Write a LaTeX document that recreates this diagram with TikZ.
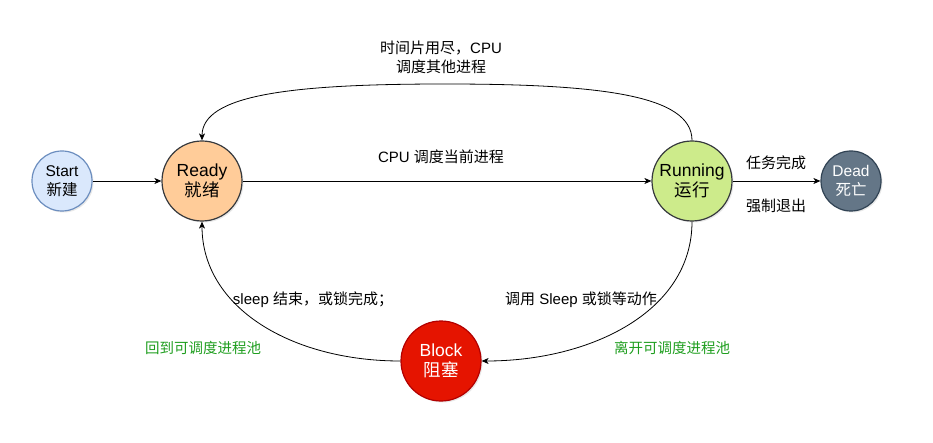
\documentclass[tikz,border=0pt]{standalone}
\usepackage{fontspec}
\setmainfont{Liberation Sans}
\newfontfamily\cjk{Noto Sans CJK SC}
\usetikzlibrary{arrows.meta,shadows}

\definecolor{startfill}{HTML}{DAE8FC}
\definecolor{startdraw}{HTML}{6C8EBF}
\definecolor{readyfill}{HTML}{FFCC99}
\definecolor{runfill}{HTML}{CDEB8B}
\definecolor{darkdraw}{HTML}{36393D}
\definecolor{deadfill}{HTML}{647687}
\definecolor{deaddraw}{HTML}{314354}
\definecolor{blockfill}{HTML}{E51400}
\definecolor{blockdraw}{HTML}{B20000}
\definecolor{greentext}{HTML}{1F9E1F}

\begin{document}
\begin{tikzpicture}[x=1pt,y=-1pt,
  state/.style={circle, draw, line width=1.2pt, align=center, inner sep=0pt,
    drop shadow={shadow xshift=1.5pt, shadow yshift=-1.5pt, opacity=0.18}},
  bigstate/.style={state, minimum size=80pt, font=\fontsize{17.5}{20}\selectfont},
  smallstate/.style={state, minimum size=60pt, font=\fontsize{15.5}{19}\selectfont},
  edge/.style={draw=black, line width=0.8pt, -{Stealth[length=7pt,width=6pt,inset=2pt]}},
  lbl/.style={align=center, inner sep=0pt, font=\fontsize{15}{19}\selectfont},
  glbl/.style={lbl, text=greentext, font=\fontsize{14.5}{18}\selectfont}
]
\useasboundingbox (0,0) rectangle (933,443);

\node[smallstate, fill=startfill, draw=startdraw] (start) at (62,181) {Start\\{\cjk 新建}};
\node[bigstate, fill=readyfill, draw=darkdraw] (ready) at (202,181) {Ready\\{\cjk 就绪}};
\node[bigstate, fill=runfill, draw=darkdraw] (running) at (692,181) {Running\\{\cjk 运行}};
\node[smallstate, fill=deadfill, draw=deaddraw, text=white] (dead) at (851,181) {Dead\\{\cjk 死亡}};
\node[bigstate, fill=blockfill, draw=blockdraw, text=white] (block) at (441,361) {Block\\{\cjk 阻塞}};

\draw[edge] (start) -- (ready);
\draw[edge] (ready) -- (running);
\draw[edge] (running) -- (dead);
\draw[edge] (running.north) .. controls (692,95) and (600,84) .. (445,84)
   .. controls (290,84) and (202,95) .. (ready.north);
\draw[edge] (running.south) .. controls (692,312) and (590,361) .. (block.east);
\draw[edge] (block.west) .. controls (292,361) and (202,308) .. (ready.south);

\node[lbl] (ltop) at (441,57) {{\cjk 时间片用尽，}CPU\\{\cjk 调度其他进程}};
\node[lbl] (lmid) at (441,157) {CPU {\cjk 调度当前进程}};
\node[lbl] (ldone) at (776,163) {{\cjk 任务完成}};
\node[lbl] (lexit) at (776,206) {{\cjk 强制退出}};
\node[lbl] (lsleep) at (313,300) {sleep {\cjk 结束，或锁完成；}};
\node[lbl] (lcall) at (581,300) {{\cjk 调用} Sleep {\cjk 或锁等动作}};
\node[glbl] (lback) at (203,348) {{\cjk 回到可调度进程池}};
\node[glbl] (lleave) at (672,348) {{\cjk 离开可调度进程池}};
\end{tikzpicture}
\end{document}
